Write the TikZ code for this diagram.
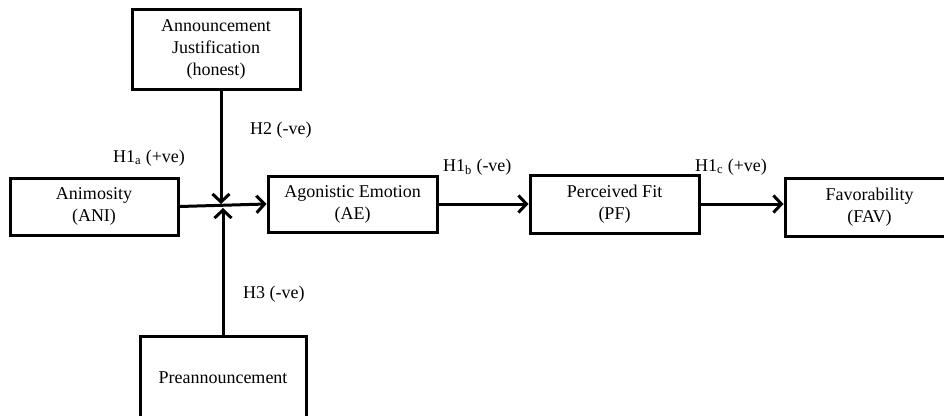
\documentclass[tikz,border=0pt]{standalone}
\usepackage{fontspec}
\setmainfont{Liberation Serif}
\usetikzlibrary{arrows.meta}
\begin{document}
\begin{tikzpicture}[x=1pt,y=-1pt,
  box/.style={draw=black,line width=3pt,rectangle,align=center,inner sep=0pt,
    font=\fontsize{18}{22}\selectfont},
  lbl/.style={anchor=west,inner sep=0pt,font=\fontsize{18}{22}\selectfont},
  arr/.style={line width=3pt,-{Straight Barb[length=8pt,width=17pt,line width=3pt]}}]
\useasboundingbox (0,0) rectangle (944,415);
\clip (0,0) rectangle (944,415);
\node[box,minimum width=168pt,minimum height=80pt] (aj) at (216,49) {Announcement\\Justification\\(honest)};
\node[box,minimum width=168pt,minimum height=57pt] (ani) at (94,206.5) {Animosity\\(ANI)};
\node[box,minimum width=169pt,minimum height=56pt] (ae) at (352.5,204) {Agonistic Emotion\\(AE)};
\node[box,minimum width=169pt,minimum height=58pt] (pf) at (614.5,204) {Perceived Fit\\(PF)};
\node[box,minimum width=169pt,minimum height=58pt] (fav) at (869.5,207) {Favorability\\(FAV)};
\node[box,minimum width=166pt,minimum height=84pt] (pre) at (223,378) {Preannouncement};
\coordinate (jtop) at (221,204);
\coordinate (jbot) at (223,208);
\draw[arr] (aj.south -| jtop) -- (jtop);
\draw[arr] (pre.north -| jbot) -- (jbot);
\draw[arr] (ani.east) -- (ae.west);
\draw[arr] (ae.east) -- (pf.west);
\draw[arr] (pf.east) -- (fav.west |- pf.east);
\node[lbl] (h2) at (250,130) {H2 (-ve)};
\node[lbl] (h1a) at (113,158) {H1\textsubscript{a} (+ve)};
\node[lbl] (h1b) at (443,167) {H1\textsubscript{b} (-ve)};
\node[lbl] (h1c) at (695,167) {H1\textsubscript{c} (+ve)};
\node[lbl] (h3) at (243,294) {H3 (-ve)};
\end{tikzpicture}
\end{document}
